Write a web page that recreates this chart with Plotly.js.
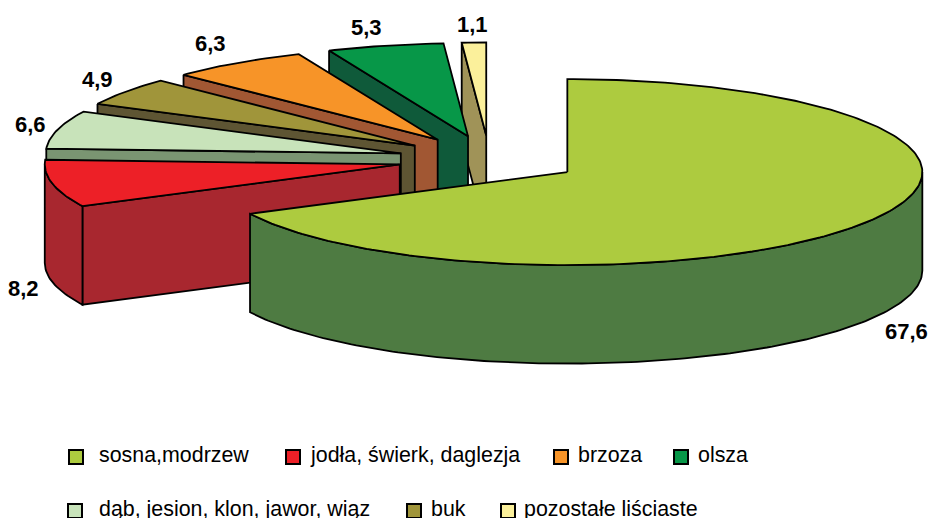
<!DOCTYPE html>
<html>
<head>
<meta charset="utf-8">
<script src="https://cdn.plot.ly/plotly-3.0.1.min.js"></script>
<style>html,body{margin:0;padding:0;background:#fff;overflow:hidden}</style>
</head>
<body>
<div id="chart" style="width:929px;height:518px"></div>
<script>
// Data, clockwise from twelve o'clock
const categories = ['sosna,modrzew','jodła, świerk, daglezja','dąb, jesion, klon, jawor, wiąz','buk','brzoza','olsza','pozostałe liściaste'];
const values = [67.6, 8.2, 6.6, 4.9, 6.3, 5.3, 1.1];
const topColors = ['#ADCB3F','#ED2027','#C8E3BA','#A0953A','#F79428','#079748','#FBF09B'];
const sideColors = ['#4E7B42','#A8272F','#7A9572','#5E5533','#A15733','#0F5A3A','#A09358'];

// Value label anchors (centres, in the pixel-sized axes)
const labelX = [906, 23, 30, 97, 210, 366, 472];
const labelY = [331, 288, 124, 79, 43, 27, 24];

// Legend layout
const legendOrder = [0, 1, 4, 5, 2, 3, 6];
const legendSwatchX = [76, 293, 561, 681, 75, 414, 508];
const legendTextX = [97.5, 309, 576.5, 697, 97.5, 430, 523];
const legendY = [457, 457, 457, 457, 511, 511, 511];

// 3D pie projection
const cx = 489.4, cy = 159.5, rx = 355, ry = 93, depth = 98.5, explode = 0.258;
const total = values.reduce((a, b) => a + b, 0);
const rad = d => d * Math.PI / 180;
const ell = (deg, r) => [r * rx * Math.sin(rad(deg)), -r * ry * Math.cos(rad(deg))];

function poly(xs, ys, color) {
  return {type:'scatter', mode:'lines', x:[...xs, xs[0]], y:[...ys, ys[0]], fill:'toself',
    fillcolor:color, line:{color:'#000', width:1.8}, hoverinfo:'skip', showlegend:false};
}
function arc(a0, a1) {
  const n = Math.max(2, Math.ceil(Math.abs(a1 - a0)));
  const p = [];
  for (let i = 0; i <= n; i++) p.push(a0 + (a1 - a0) * i / n);
  return p;
}

// Slices
let acc = 0;
const slices = values.map((v, i) => {
  const start = acc / total * 360;
  acc += v;
  const end = acc / total * 360;
  const mid = (start + end) / 2;
  const off = ell(mid, explode);
  return {i, start, end, ax: cx + off[0], ay: cy + off[1]};
});

const traces = [];
// Painter's order: back slices first, sosna last
[6, 5, 4, 3, 2, 1, 0].forEach(k => {
  const s = slices[k];
  const pt = d => { const e = ell(d, 1); return [s.ax + e[0], s.ay + e[1]]; };
  // cut face on the slice's start edge, facing the viewer for left-hand slices
  if (k !== 0) {
    const p = pt(s.start);
    traces.push(poly([p[0], s.ax, s.ax, p[0]], [p[1], s.ay, s.ay + depth, p[1] + depth], sideColors[k]));
  }
  // outer rim where it faces the viewer
  const r0 = Math.max(s.start, 90), r1 = Math.min(s.end, 270);
  if (r1 > r0) {
    const pts = arc(r0, r1).map(pt);
    const xs = pts.map(p => p[0]), ys = pts.map(p => p[1]);
    traces.push(poly([...xs, ...xs.slice().reverse()],
      [...ys, ...ys.slice().reverse().map(y => y + depth)], sideColors[k]));
  }
  // top face
  const pts = arc(s.start, s.end).map(pt);
  traces.push(poly([s.ax, ...pts.map(p => p[0])], [s.ay, ...pts.map(p => p[1])], topColors[k]));
});

// Legend swatches
traces.push({type:'scatter', mode:'markers', x:legendSwatchX, y:legendY, cliponaxis:false,
  marker:{symbol:'square', size:14, color:legendOrder.map(k => topColors[k]), line:{color:'#000', width:2}},
  hoverinfo:'skip', showlegend:false});

const annotations = [];
values.forEach((v, i) => annotations.push({x:labelX[i], y:labelY[i], xref:'x', yref:'y', showarrow:false,
  text:v.toFixed(1).replace('.', ','), xanchor:'center', yanchor:'middle',
  font:{family:'Liberation Sans, Arial, sans-serif', size:22, color:'#000', weight:700}}));
legendOrder.forEach((k, j) => annotations.push({x:legendTextX[j], y:legendY[j]-2, xref:'x', yref:'y', showarrow:false,
  text:categories[k], xanchor:'left', yanchor:'middle', borderpad:0,
  font:{family:'Liberation Sans, Arial, sans-serif', size:21.4, color:'#000'}}));

Plotly.newPlot('chart', traces, {
  width:929, height:518, margin:{l:0, r:0, t:0, b:0, pad:0},
  paper_bgcolor:'#fff', plot_bgcolor:'#fff', showlegend:false, hovermode:false,
  xaxis:{range:[0, 929], visible:false, fixedrange:true},
  yaxis:{range:[518, 0], visible:false, fixedrange:true},
  annotations
}, {displayModeBar:false, staticPlot:true});
</script>
</body>
</html>
